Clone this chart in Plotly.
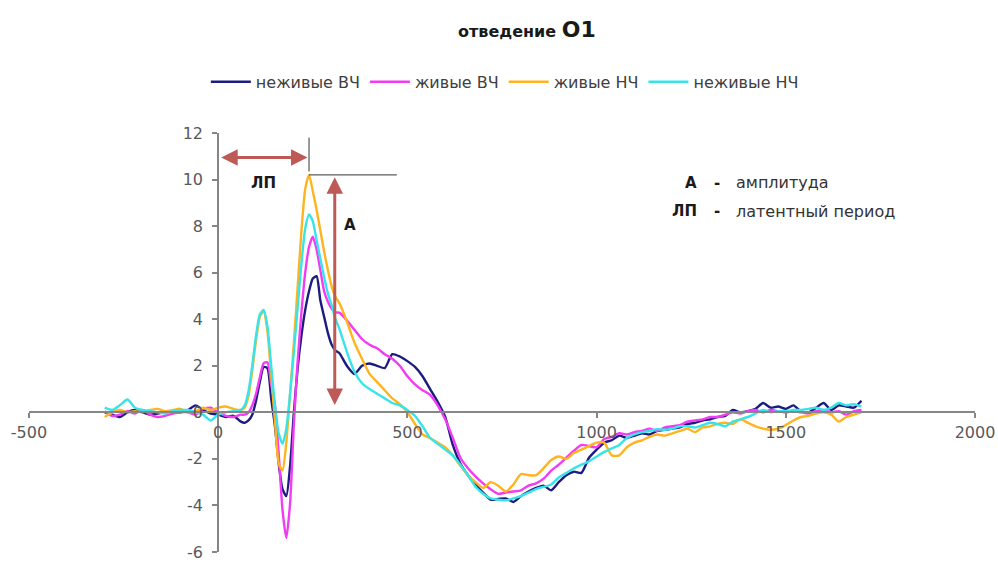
import plotly.graph_objects as go

# Sampling grid, ms (finer around the early components)
T = list(range(-300, 61, 20)) + list(range(70, 321, 10)) + list(range(340, 1701, 20))

neziv_vch = [
    0.0, -0.1, -0.2, 0.0, 0.1, 0.0, -0.1, -0.05, 0.0, 0.05, 0.0, 0.1, 0.3, 0.1, -0.05, -0.1, -0.2, -0.15, -0.4,
    -0.45, -0.35, -0.1, 0.5, 1.3, 1.95, 1.9, 0.6, -0.6, -2.2, -3.3, -3.6, -2.3,
    0.0, 1.9, 3.3, 4.4, 5.2, 5.75, 5.85, 4.8, 4.1, 3.4, 2.9, 2.65, 2.55,
    2.0, 1.65, 2.0, 2.1, 2.0, 1.9, 2.5, 2.4, 2.2, 1.95,
    1.55, 1.0, 0.45, -0.2, -1.4, -2.2, -2.7, -3.1, -3.45, -3.75,
    -3.72, -3.7, -3.85, -3.6, -3.4, -3.25, -3.15, -3.35, -3.0, -2.7,
    -2.55, -2.6, -1.95, -1.6, -1.3, -1.2, -1.0, -1.1, -1.0, -0.9,
    -0.95, -0.8, -0.75, -0.7, -0.65, -0.5, -0.45, -0.35, -0.3, -0.2,
    -0.15, 0.1, 0.0, 0.05, 0.15, 0.4, 0.2, 0.25, 0.15, 0.3,
    0.05, 0.0, 0.2, 0.4, 0.1, 0.3, 0.25, 0.2, 0.5,
]

ziv_vch = [
    0.05, -0.15, -0.1, 0.05, -0.05, 0.1, -0.1, -0.2, -0.15, -0.05, 0.0, 0.0, -0.1, 0.15, 0.2, 0.0, -0.15, -0.2, -0.1,
    -0.1, 0.0, 0.3, 0.8, 1.5, 2.1, 2.15, 1.2, 0.3, -1.8, -4.2, -5.4, -3.9,
    -0.5, 2.2, 4.3, 6.0, 7.1, 7.55, 7.0, 6.1, 5.2, 4.75, 4.45, 4.3, 4.28,
    3.95, 3.55, 3.15, 2.9, 2.75, 2.5, 2.3, 2.0, 1.55, 1.2,
    0.95, 0.75, 0.3, -0.3, -1.1, -1.95, -2.4, -2.75, -3.05, -3.3,
    -3.5, -3.45, -3.4, -3.35, -3.15, -3.05, -2.85, -2.5, -2.25, -1.95,
    -1.65, -1.4, -1.45, -1.5, -1.15, -1.05, -0.9, -0.95, -0.85, -0.8,
    -0.7, -0.8, -0.65, -0.6, -0.55, -0.4, -0.35, -0.3, -0.2, -0.2,
    -0.1, 0.0, -0.05, 0.05, 0.1, 0.0, 0.1, 0.05, 0.0, 0.05,
    0.0, -0.05, 0.05, 0.1, 0.0, 0.05, -0.1, 0.05, 0.1,
]

ziv_nch = [
    -0.2, 0.0, 0.1, 0.0, 0.05, 0.0, 0.1, 0.15, 0.05, 0.1, 0.15, 0.0, 0.05, 0.2, 0.1, 0.2, 0.25, 0.15, 0.1,
    0.2, 0.7, 1.8, 3.1, 4.1, 4.35, 3.5, 1.6, -0.4, -2.2, -2.5, -1.3,
    0.8, 3.0, 5.4, 7.8, 9.6, 10.2, 9.5, 8.7, 7.8, 6.9, 6.1, 5.4, 4.95, 4.7,
    3.9, 3.0, 2.3, 1.65, 1.3, 0.95, 0.6, 0.35, 0.0, -0.5,
    -0.95, -1.1, -1.3, -1.5, -1.85, -2.3, -2.7, -3.0, -3.25, -3.0,
    -3.15, -3.4, -3.1, -2.65, -2.7, -2.7, -2.4, -2.05, -1.9, -2.0,
    -1.75, -1.6, -1.45, -1.3, -1.3, -1.85, -1.85, -1.5, -1.3, -1.2,
    -1.05, -0.95, -1.0, -0.9, -0.8, -0.7, -0.85, -0.65, -0.6, -0.5,
    -0.45, -0.5, -0.3, -0.45, -0.6, -0.7, -0.75, -0.7, -0.55, -0.35,
    -0.2, -0.15, -0.05, 0.0, -0.1, -0.4, -0.2, -0.1, 0.0,
]

neziv_nch = [
    0.2, 0.1, 0.3, 0.55, 0.2, 0.1, 0.05, 0.0, -0.05, 0.05, 0.1, 0.1, 0.0, -0.1, -0.35, -0.1, 0.0, 0.05, 0.1,
    0.3, 0.9, 2.0, 3.3, 4.2, 4.4, 3.7, 2.0, 0.3, -0.9, -1.35, -0.7,
    0.8, 2.6, 4.5, 6.4, 7.9, 8.5, 8.2, 7.4, 6.6, 5.8, 5.1, 4.6, 4.0, 3.6,
    2.6, 1.75, 1.25, 1.0, 0.8, 0.6, 0.4, 0.3, 0.1, -0.15,
    -0.6, -1.1, -1.35, -1.6, -1.85, -2.25, -2.7, -3.2, -3.5, -3.7,
    -3.75, -3.78, -3.7, -3.6, -3.45, -3.3, -3.2, -3.1, -2.8, -2.6,
    -2.4, -2.25, -2.1, -1.9, -1.7, -1.55, -1.4, -1.1, -0.95, -0.85,
    -0.8, -0.72, -0.75, -0.7, -0.6, -0.6, -0.65, -0.55, -0.45, -0.5,
    -0.6, -0.4, -0.3, -0.2, -0.05, 0.1, 0.0, 0.05, 0.05, 0.1,
    0.1, 0.15, 0.2, 0.1, 0.2, 0.4, 0.3, 0.35, 0.25,
]

series_names = ["неживые ВЧ", "живые ВЧ", "живые НЧ", "неживые НЧ"]
series_values = [neziv_vch, ziv_vch, ziv_nch, neziv_nch]
series_colors = ["#1c1c80", "#f23cf2", "#ffb41f", "#38e4e8"]

x_ticks = [-500, 0, 500, 1000, 1500, 2000]
x_tick_text = ["-500", "0", "500", "1000", "1500", "2000"]
y_ticks = [-6, -4, -2, 0, 2, 4, 6, 8, 10, 12]
y_tick_text = ["-6", "-4", "-2", "0", "2", "4", "6", "8", "10", "12"]

FONT = "DejaVu Sans, Verdana, sans-serif"
ARROW = "#bd5a55"
DARK = "#1a1a1a"

fig = go.Figure()
for name, vals, col in zip(series_names, series_values, series_colors):
    assert len(vals) == len(T), name
    fig.add_trace(go.Scatter(
        x=T, y=vals, name=name, mode="lines",
        line=dict(color=col, width=2.4, shape="spline", smoothing=0.6),
        hoverinfo="skip",
    ))

# latency / amplitude markers derived from the strongest peak
peak_v = max(ziv_nch)
peak_t = T[ziv_nch.index(peak_v)]

shapes = [
    dict(type="line", xref="x", yref="y", x0=peak_t, x1=peak_t, y0=peak_v + 0.15, y1=11.8,
         line=dict(color="#333333", width=1)),
    dict(type="line", xref="x", yref="y", x0=peak_t, x1=peak_t + 232, y0=peak_v, y1=peak_v,
         line=dict(color="#333333", width=1)),
]


def label(x, y, text, size=15, color=DARK, anchor="center"):
    return dict(x=x, y=y, xref="x", yref="y", text=text, showarrow=False, xanchor=anchor,
                font=dict(family=FONT, size=size, color=color))


annotations = [
    # double arrow: latency
    dict(x=peak_t - 4, y=10.95, ax=4, ay=10.95, xref="x", yref="y", axref="x", ayref="y",
         text="", showarrow=True, arrowhead=2, arrowside="end+start", arrowsize=1.1,
         arrowwidth=3, arrowcolor=ARROW, standoff=0, startstandoff=0),
    # double arrow: amplitude
    dict(x=peak_t + 68, y=peak_v - 0.1, ax=peak_t + 68, ay=0.25, xref="x", yref="y", axref="x", ayref="y",
         text="", showarrow=True, arrowhead=2, arrowside="end+start", arrowsize=1.1,
         arrowwidth=3, arrowcolor=ARROW, standoff=0, startstandoff=0),
    label(peak_t / 2, 9.85, "<b>ЛП</b>"),
    label(347, 8.05, "<b>А</b>"),
    # explanation
    label(1270, 9.87, "<b>А</b>", anchor="right"),
    label(1317, 9.87, "<b>-</b>"),
    label(1362, 9.87, "амплитуда", size=16, color="#333333", anchor="left"),
    label(1270, 8.64, "<b>ЛП</b>", anchor="right"),
    label(1317, 8.64, "<b>-</b>"),
    label(1362, 8.64, "латентный период", size=16, color="#333333", anchor="left"),
    # title
    dict(x=0.526, y=1.246, xref="paper", yref="paper", yanchor="middle", showarrow=False,
         text="<b>отведение <span style='font-size:22px'>О1</span></b>",
         font=dict(family=FONT, size=16, color=DARK)),
]

axis_common = dict(
    anchor="free", showline=True, linecolor="#868686", linewidth=2,
    ticks="outside", ticklen=5, tickcolor="#868686", tickwidth=2,
    showgrid=False, zeroline=False, ticklabeloverflow="allow",
    tickfont=dict(family=FONT, size=16, color="#595959"),
)

fig.update_layout(
    width=998, height=563,
    margin=dict(l=29, r=23, t=133, b=11, autoexpand=False),
    paper_bgcolor="white", plot_bgcolor="white",
    font=dict(family=FONT, color="#595959"),
    showlegend=True,
    legend=dict(orientation="h", x=0.503, xanchor="center", y=1.122, yanchor="middle",
                font=dict(family=FONT, size=16, color="#404040"),
                itemwidth=40, tracegroupgap=0),
    shapes=shapes,
    annotations=annotations,
    xaxis=dict(range=[-500, 2000], tickvals=x_ticks, ticktext=x_tick_text, position=1 / 3,
               **axis_common),
    yaxis=dict(range=[-6, 12], tickvals=y_ticks, ticktext=y_tick_text, position=0.2,
               ticklabelstandoff=6, **axis_common),
)

fig.write_html("out.html")
